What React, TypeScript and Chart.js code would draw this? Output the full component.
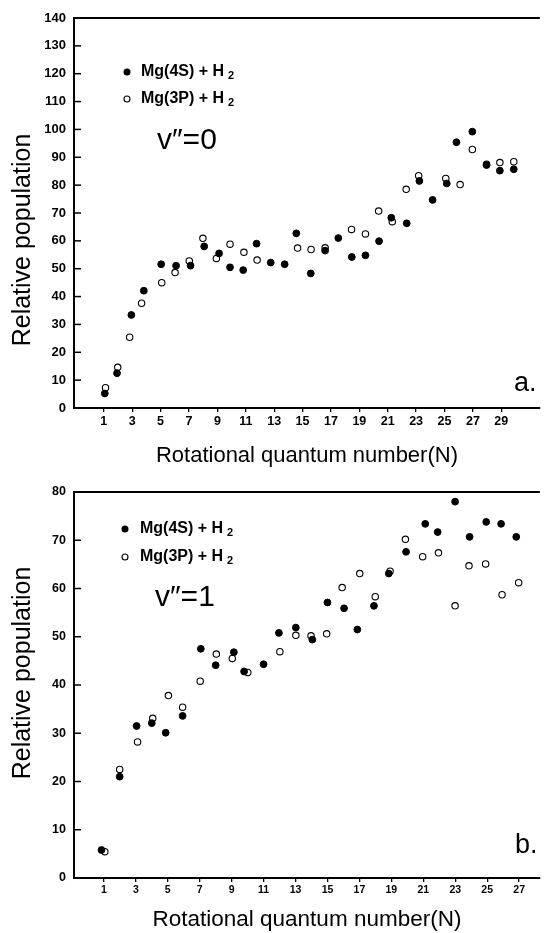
import React, { useEffect, useRef } from "react";
import { Chart, registerables } from "chart.js";
Chart.register(...registerables);

// ---------- data ----------
// Panel a: v''=0
const TOP_N_4S = [1.07, 1.93, 2.94, 3.82, 5.04, 6.09, 7.11, 8.07, 9.12, 9.89, 10.82, 11.76, 12.76, 13.74, 14.56, 15.58, 16.59, 17.52, 18.47, 19.43, 20.39, 21.25, 22.34, 23.23, 24.16, 25.16, 25.84, 26.96, 27.96, 28.9, 29.88];
const TOP_POP_4S = [5.2, 12.5, 33.4, 42.1, 51.6, 51.1, 51.1, 58.0, 55.5, 50.5, 49.5, 59.0, 52.2, 51.6, 62.7, 48.3, 56.5, 61.0, 54.2, 54.8, 59.9, 68.3, 66.3, 81.5, 74.7, 80.6, 95.4, 99.2, 87.2, 85.2, 85.7];
const TOP_N_3P = [1.12, 1.98, 2.82, 3.66, 5.08, 6.02, 7.02, 7.98, 8.93, 9.89, 10.87, 11.8, 14.65, 15.6, 16.59, 18.45, 19.43, 20.36, 21.32, 22.3, 23.18, 25.09, 26.1, 26.96, 27.96, 28.9, 29.88];
const TOP_POP_3P = [7.3, 14.6, 25.4, 37.6, 45.0, 48.6, 52.8, 60.9, 53.7, 58.8, 55.9, 53.1, 57.4, 56.9, 57.5, 64.1, 62.5, 70.7, 66.9, 78.5, 83.4, 82.4, 80.2, 92.8, 87.5, 88.1, 88.4];

// Panel b: v''=1
const BOT_N_4S = [0.85, 1.99, 3.05, 4.0, 4.87, 5.93, 7.07, 8.0, 9.14, 9.78, 11.0, 11.96, 13.02, 14.05, 15.0, 16.04, 16.87, 17.91, 18.84, 19.92, 21.12, 21.9, 22.99, 23.9, 24.94, 25.87, 26.82];
const BOT_POP_4S = [5.8, 21.0, 31.5, 32.1, 30.1, 33.6, 47.5, 44.1, 46.8, 42.8, 44.3, 50.8, 51.9, 49.4, 57.1, 55.9, 51.5, 56.4, 63.1, 67.6, 73.4, 71.7, 78.0, 70.7, 73.8, 73.4, 70.7];
const BOT_N_3P = [1.06, 1.99, 3.11, 4.06, 5.04, 5.93, 7.03, 8.04, 9.04, 10.01, 12.02, 13.02, 13.97, 14.95, 15.92, 17.02, 17.99, 18.92, 19.88, 20.96, 21.95, 22.99, 23.86, 24.9, 25.93, 26.97];
const BOT_POP_3P = [5.45, 22.5, 28.2, 33.1, 37.8, 35.4, 40.8, 46.4, 45.5, 42.6, 46.9, 50.3, 50.2, 50.6, 60.2, 63.1, 58.3, 63.6, 70.2, 66.6, 67.4, 56.4, 64.7, 65.1, 58.7, 61.2];

// tick labels
const TOP_X_TICKS = [1, 3, 5, 7, 9, 11, 13, 15, 17, 19, 21, 23, 25, 27, 29];
const BOT_X_TICKS = [1, 3, 5, 7, 9, 11, 13, 15, 17, 19, 21, 23, 25, 27];
const TOP_Y_TICKS = [0, 10, 20, 30, 40, 50, 60, 70, 80, 90, 100, 110, 120, 130, 140];
const BOT_Y_TICKS = [0, 10, 20, 30, 40, 50, 60, 70, 80];

// texts
const SERIES_BASE = ["Mg(4S) + H", "Mg(3P) + H"];
const SERIES_SUB = "2";
const X_TITLE = "Rotational quantum number(N)";
const Y_TITLE = "Relative population";
const TOP_STATE = "v\u2033=0";
const BOT_STATE = "v\u2033=1";
const TOP_PANEL = "a.";
const BOT_PANEL = "b.";

const FONT = "'Liberation Sans', Arial, Helvetica, sans-serif";

const decorPlugin = {
  id: "decor",
  afterDraw(chart: any, _args: any, o: any) {
    const { ctx, chartArea: ca, scales } = chart;
    ctx.save();
    ctx.strokeStyle = "#000";
    ctx.fillStyle = "#000";
    // top frame line
    ctx.lineWidth = 2;
    ctx.beginPath();
    ctx.moveTo(ca.left - 1, ca.top);
    ctx.lineTo(ca.right, ca.top);
    ctx.stroke();
    // inward y ticks
    ctx.lineWidth = 1.5;
    scales.y.ticks.forEach((t: any) => {
      const y = scales.y.getPixelForValue(t.value);
      ctx.beginPath();
      ctx.moveTo(ca.left, y);
      ctx.lineTo(ca.left + 7, y);
      ctx.stroke();
    });
    // legend
    const L = o.legend;
    ctx.textBaseline = "middle";
    ctx.textAlign = "left";
    [L.y1, L.y2].forEach((ly: number, i: number) => {
      ctx.beginPath();
      ctx.arc(L.mx, ly, i === 0 ? 3.5 : 3, 0, Math.PI * 2);
      if (i === 0) ctx.fill();
      else {
        ctx.lineWidth = 1.1;
        ctx.stroke();
      }
      ctx.font = `bold 16px ${FONT}`;
      ctx.fillText(SERIES_BASE[i], L.tx, ly);
      const w = ctx.measureText(SERIES_BASE[i]).width;
      ctx.font = `bold 11px ${FONT}`;
      ctx.fillText(SERIES_SUB, L.tx + w + 4, ly + 4);
    });
    // state label
    ctx.font = `30px ${FONT}`;
    ctx.fillText(o.state.text, o.state.x, o.state.y);
    // panel label
    ctx.font = `27px ${FONT}`;
    ctx.fillText(o.panel.text, o.panel.x, o.panel.y);
    // y axis title
    ctx.save();
    ctx.translate(o.yTitle.x, o.yTitle.y);
    ctx.rotate(-Math.PI / 2);
    ctx.textAlign = "center";
    ctx.textBaseline = "middle";
    ctx.font = `25px ${FONT}`;
    ctx.fillText(Y_TITLE, 0, 0);
    ctx.restore();
    ctx.restore();
  },
};

function makeConfig(p: any) {
  return {
    type: "scatter",
    data: {
      datasets: [
        {
          label: SERIES_BASE[0] + SERIES_SUB,
          data: p.n4s.map((n: number, i: number) => ({ x: n, y: p.pop4s[i] })),
          pointRadius: 3.4,
          pointBackgroundColor: "#000",
          pointBorderColor: "#000",
          pointBorderWidth: 1,
        },
        {
          label: SERIES_BASE[1] + SERIES_SUB,
          data: p.n3p.map((n: number, i: number) => ({ x: n, y: p.pop3p[i] })),
          pointRadius: 3.2,
          pointBackgroundColor: "#fff",
          pointBorderColor: "#000",
          pointBorderWidth: 1.1,
        },
      ],
    },
    options: {
      responsive: false,
      animation: false,
      events: [],
      layout: { padding: { top: p.padTop, right: 2, left: 0, bottom: 0 } },
      plugins: {
        legend: { display: false },
        tooltip: { enabled: false },
        decor: p.decor,
      },
      scales: {
        x: {
          type: "linear",
          min: p.xmin,
          max: p.xmax,
          afterBuildTicks: (s: any) => {
            s.ticks = p.xticks.map((v: number) => ({ value: v }));
          },
          afterFit: (s: any) => {
            s.height = p.xHeight;
          },
          grid: {
            display: true,
            drawOnChartArea: false,
            drawTicks: true,
            tickLength: 4,
            color: "#000",
            lineWidth: 1.3,
          },
          border: { display: true, color: "#000", width: 2 },
          ticks: {
            color: "#000",
            padding: 2,
            maxRotation: 0,
            autoSkip: false,
            font: { family: FONT, size: p.xTickSize, weight: "bold" },
            callback: (v: any) => String(v),
          },
          title: {
            display: true,
            text: X_TITLE,
            color: "#000",
            font: { family: FONT, size: p.xTitleSize },
            padding: { top: 0, bottom: p.xTitlePad },
          },
        },
        y: {
          type: "linear",
          min: 0,
          max: p.ymax,
          afterBuildTicks: (s: any) => {
            s.ticks = p.yticks.map((v: number) => ({ value: v }));
          },
          afterFit: (s: any) => {
            s.width = 74;
          },
          grid: { display: false, drawTicks: false },
          border: { display: true, color: "#000", width: 2 },
          ticks: {
            color: "#000",
            padding: 8,
            autoSkip: false,
            font: { family: FONT, size: p.yTickSize, weight: "bold" },
            callback: (v: any) => String(v),
          },
          title: { display: false },
        },
      },
    },
    plugins: [decorPlugin],
  } as any;
}

const TOP_PANEL_CFG = {
  n4s: TOP_N_4S, pop4s: TOP_POP_4S, n3p: TOP_N_3P, pop3p: TOP_POP_3P,
  xmin: -1.1, xmax: 31.72, ymax: 140,
  xticks: TOP_X_TICKS, yticks: TOP_Y_TICKS,
  padTop: 18, xHeight: 67, xTitlePad: 6, xTitleSize: 22, xTickSize: 12.5, yTickSize: 13,
  decor: {
    legend: { mx: 127, y1: 72, y2: 99, tx: 141 },
    state: { text: TOP_STATE, x: 157, y: 141 },
    panel: { text: TOP_PANEL, x: 514, y: 384 },
    yTitle: { x: 23, y: 240 },
  },
};

const BOT_PANEL_CFG = {
  n4s: BOT_N_4S, pop4s: BOT_POP_4S, n3p: BOT_N_3P, pop3p: BOT_POP_3P,
  xmin: -0.87, xmax: 28.3, ymax: 80,
  xticks: BOT_X_TICKS, yticks: BOT_Y_TICKS,
  padTop: 17, xHeight: 55, xTitlePad: 0, xTitleSize: 22.5, xTickSize: 10.5, yTickSize: 12.5,
  decor: {
    legend: { mx: 125, y1: 54, y2: 82, tx: 140 },
    state: { text: BOT_STATE, x: 155, y: 123 },
    panel: { text: BOT_PANEL, x: 515, y: 371 },
    yTitle: { x: 23, y: 198 },
  },
};

function Panel({ cfg, width, height, top }: any) {
  const ref = useRef<HTMLCanvasElement | null>(null);
  useEffect(() => {
    if (!ref.current) return;
    const chart = new Chart(ref.current, makeConfig(cfg));
    return () => chart.destroy();
  }, []);
  return (
    <canvas
      ref={ref}
      width={width}
      height={height}
      style={{ position: "absolute", left: 0, top, width, height, display: "block" }}
    />
  );
}

export default function App() {
  return (
    <div style={{ position: "absolute", left: 0, top: 0, width: 545, height: 933, background: "#fff" }}>
      <Panel cfg={TOP_PANEL_CFG} width={545} height={475} top={0} />
      <Panel cfg={BOT_PANEL_CFG} width={545} height={458} top={475} />
    </div>
  );
}
